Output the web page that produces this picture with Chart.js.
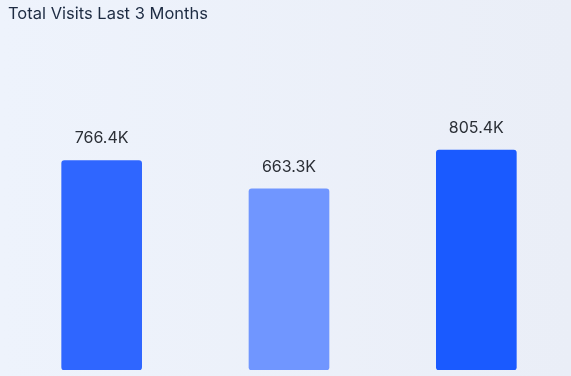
<!DOCTYPE html>
<html><head><meta charset="utf-8">
<script src="https://cdn.jsdelivr.net/npm/chart.js@4.4.1/dist/chart.umd.min.js"></script>
<style>
html,body{margin:0;padding:0;}
body{width:571px;height:376px;background:linear-gradient(to right,#EEF3FC,#EAEEF7);overflow:hidden;}
#wrap{position:relative;width:571px;height:376px;}
</style></head>
<body><div id="wrap"><canvas id="c" width="571" height="376"></canvas></div>
<script>
const categories = ["Month 1", "Month 2", "Month 3"];
const visits = [766.4, 663.3, 805.4];
const valueLabels = ["766.4K", "663.3K", "805.4K"];
const barColors = ["#2F66FF", "#7096FF", "#1A5AFF"];

const labelPlugin = {
  id: 'valueLabels',
  afterDatasetsDraw(chart) {
    const ctx = chart.ctx;
    const meta = chart.getDatasetMeta(0);
    ctx.save();
    ctx.font = '16px Inter, "DejaVu Sans", sans-serif';
    ctx.fillStyle = '#2B2F36';
    ctx.textAlign = 'center';
    ctx.textBaseline = 'middle';
    meta.data.forEach((bar, i) => {
      ctx.fillText(valueLabels[i], bar.x, bar.y - 22);
    });
    ctx.restore();
  }
};

new Chart(document.getElementById('c'), {
  type: 'bar',
  data: {
    labels: categories,
    datasets: [{
      data: visits,
      backgroundColor: barColors,
      borderRadius: 3,
      borderSkipped: false,
      barThickness: 80
    }]
  },
  options: {
    responsive: false,
    animation: false,
    layout: { padding: { left: 8, right: 1, bottom: 6, top: 0 } },
    plugins: {
      legend: { display: false },
      tooltip: { enabled: false },
      title: {
        display: true,
        text: 'Total Visits Last 3 Months',
        align: 'start',
        color: '#1D2B42',
        font: { family: 'Inter, "DejaVu Sans", sans-serif', size: 16.5, weight: 'normal' },
        padding: { top: 4, bottom: 73 }
      }
    },
    scales: {
      x: { display: false },
      y: { display: false, min: 0, max: 1000 }
    }
  },
  plugins: [labelPlugin]
});
</script></body></html>
